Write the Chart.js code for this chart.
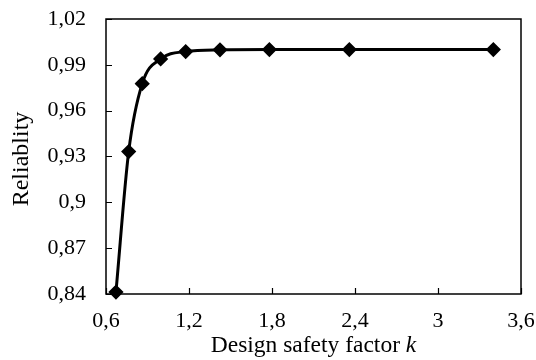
<!DOCTYPE html>
<html>
<head>
<meta charset="utf-8">
<script src="https://cdn.jsdelivr.net/npm/chart.js@4/dist/chart.umd.min.js"></script>
<style>
html,body{margin:0;padding:0;background:#fff;}
#wrap{width:536px;height:360px;}
</style>
</head>
<body>
<div id="wrap"><canvas id="c" width="536" height="360"></canvas></div>
<script>
const safetyFactor = [0.672, 0.764, 0.862, 0.995, 1.176, 1.424, 1.781, 2.359, 3.40];
const reliability = [0.8413, 0.9332, 0.9777, 0.9939, 0.9987, 0.9998, 1.0, 1.0, 1.0];
const xTickValues = [0.6, 1.2, 1.8, 2.4, 3.0, 3.6];
const yTickValues = [0.84, 0.87, 0.90, 0.93, 0.96, 0.99, 1.02];
const xTitle = 'Design safety factor ';
const xTitleItalic = 'k';
const yTitle = 'Reliablity';

const fmt = (v, d) => String(Math.round(v * Math.pow(10, d)) / Math.pow(10, d)).replace('.', ',');
const FONT = "'Liberation Serif', 'Times New Roman', serif";

const frame = {
  id: 'frame',
  afterDraw(chart) {
    const ctx = chart.ctx, a = chart.chartArea;
    const xs = chart.scales.x, ys = chart.scales.y;
    ctx.save();
    ctx.strokeStyle = '#000';
    ctx.lineWidth = 1.5;
    ctx.strokeRect(a.left, a.top, a.right - a.left, a.bottom - a.top);
    ctx.lineWidth = 1.2;
    ctx.beginPath();
    xs.ticks.forEach(t => {
      const px = Math.round(xs.getPixelForValue(t.value)) + 0.5;
      ctx.moveTo(px, a.bottom); ctx.lineTo(px, a.bottom - 6);
    });
    ys.ticks.forEach(t => {
      const py = Math.round(ys.getPixelForValue(t.value)) + 0.5;
      ctx.moveTo(a.left, py); ctx.lineTo(a.left + 6, py);
    });
    ctx.stroke();
    // x title with italic k
    ctx.fillStyle = '#000';
    ctx.textBaseline = 'middle';
    const TS = 23.5;
    ctx.font = TS + "px " + FONT;
    const w1 = ctx.measureText(xTitle).width;
    ctx.font = "italic " + TS + "px " + FONT;
    const w2 = ctx.measureText(xTitleItalic).width;
    const cx = (a.left + a.right) / 2;
    const x0 = cx - (w1 + w2) / 2;
    const ty = 346;
    ctx.textAlign = 'left';
    ctx.font = TS + "px " + FONT;
    ctx.fillText(xTitle, x0, ty);
    ctx.font = "italic " + TS + "px " + FONT;
    ctx.fillText(xTitleItalic, x0 + w1, ty);
    // y title
    ctx.font = "24px " + FONT;
    ctx.translate(22, 159);
    ctx.rotate(-Math.PI / 2);
    ctx.textAlign = 'center';
    ctx.fillText(yTitle, 0, 0);
    ctx.restore();
  }
};

new Chart(document.getElementById('c'), {
  type: 'line',
  data: {
    datasets: [{
      data: safetyFactor.map((x, i) => ({x: x, y: reliability[i]})),
      borderColor: '#000',
      backgroundColor: '#000',
      borderWidth: 3,
      cubicInterpolationMode: 'monotone',
      pointStyle: 'rectRot',
      pointRadius: 5.5,
      pointHoverRadius: 5.5,
      clip: false
    }]
  },
  options: {
    responsive: false,
    animation: false,
    devicePixelRatio: 1,
    layout: {padding: {top: 19, right: 15, left: 0, bottom: 0}},
    plugins: {legend: {display: false}, tooltip: {enabled: false}},
    scales: {
      x: {
        type: 'linear', min: 0.6, max: 3.6,
        afterBuildTicks: s => { s.ticks = xTickValues.map(v => ({value: v})); },
        afterFit: s => { s.height = 66; s.paddingLeft = 0; s.paddingRight = 0; },
        grid: {display: false, drawTicks: false},
        border: {display: false},
        ticks: {color: '#000', padding: 14, font: {family: FONT, size: 22}, callback: v => fmt(v, 1), maxRotation: 0}
      },
      y: {
        type: 'linear', min: 0.84, max: 1.02,
        afterBuildTicks: s => { s.ticks = yTickValues.map(v => ({value: v})); },
        afterFit: s => { s.width = 106; s.paddingTop = 0; s.paddingBottom = 0; },
        grid: {display: false, drawTicks: false},
        border: {display: false},
        ticks: {color: '#000', padding: 20, font: {family: FONT, size: 22}, callback: v => fmt(v, 2)}
      }
    }
  },
  plugins: [frame]
});
</script>
</body>
</html>
